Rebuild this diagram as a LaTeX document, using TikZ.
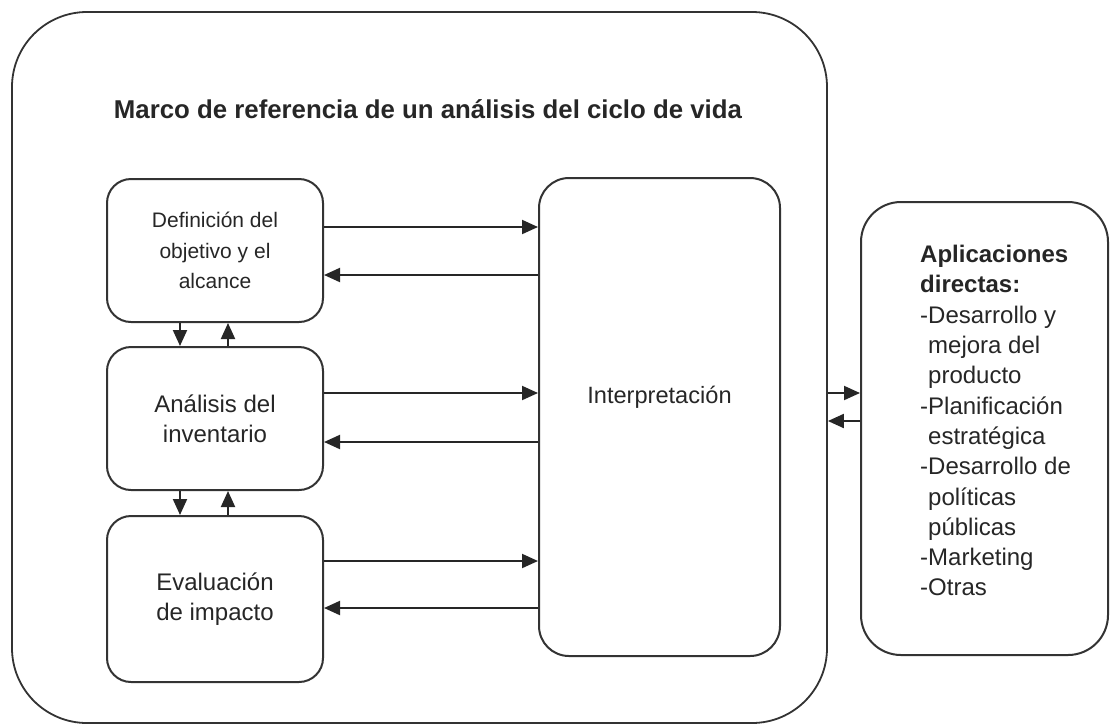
\documentclass[tikz,border=0pt]{standalone}
\usepackage{fontspec}
\setmainfont{Liberation Sans}
\usetikzlibrary{arrows.meta,positioning}
\tikzset{frame/.style={draw=black!80,line width=1.8pt,rounded corners=75pt,minimum width=815pt,minimum height=711pt}}
\tikzset{stage/.style={draw=black!80,line width=2pt,rounded corners=24pt,minimum width=216pt,align=center,text=black!85,font=\fontsize{24}{30}\selectfont}}
\tikzset{flow/.style={draw=black!85,line width=2pt,-{Triangle[length=16pt,width=14pt]}}}
\tikzset{txt/.style={inner sep=0pt,text=black!85}}

\begin{document}
\begin{tikzpicture}[x=1pt,y=-1pt]
    \useasboundingbox (0,0) rectangle (1110,724);
    \node[frame] (marco) at (419.5,367.5) {};
    \node[txt,anchor=base,font=\bfseries\fontsize{25.8}{30}\selectfont] (titulo) at (428,118) {Marco de referencia de un análisis del ciclo de vida};

    \node[stage,minimum height=143pt,font=\fontsize{21}{30.5}\selectfont] (def) at (215,250.5) {Definición del\\objetivo y el\\alcance};
    \node[stage,minimum height=143pt,below=23pt of def] (inv) {Análisis del\\inventario};
    \node[stage,minimum height=166pt,below=24pt of inv] (eva) {Evaluación\\de impacto};

    \node[stage,minimum width=241pt,minimum height=478pt,rounded corners=30pt] (interp) at (659.5,417) {};
    \node[txt,anchor=base,font=\fontsize{23.6}{28}\selectfont] (interptxt) at (659.5,403) {Interpretación};

    \node[stage,minimum width=247pt,minimum height=453pt,rounded corners=40pt] (apps) at (984.5,428.5) {};
    \node[txt,anchor=north west,align=left,font=\fontsize{24}{30.3}\selectfont] (appstxt) at (920,245)
        {\textbf{Aplicaciones}\\\textbf{directas:}\\-Desarrollo y\\\hphantom{-}mejora del\\\hphantom{-}producto\\-Planificación\\\hphantom{-}estratégica\\-Desarrollo de\\\hphantom{-}políticas\\\hphantom{-}públicas\\-Marketing\\-Otras};

        \draw[flow] (def.east |- 0,227) -- (interp.west |- 0,227);
        \draw[flow] (interp.west |- 0,275) -- (def.east |- 0,275);
        \draw[flow] (inv.east |- 0,393) -- (interp.west |- 0,393);
        \draw[flow] (interp.west |- 0,442) -- (inv.east |- 0,442);
        \draw[flow] (eva.east |- 0,561) -- (interp.west |- 0,561);
        \draw[flow] (interp.west |- 0,608) -- (eva.east |- 0,608);
        \draw[flow] (def.south -| 180,0) -- (inv.north -| 180,0);
        \draw[flow] (inv.north -| 228,0) -- (def.south -| 228,0);
        \draw[flow] (inv.south -| 180,0) -- (eva.north -| 180,0);
        \draw[flow] (eva.north -| 228,0) -- (inv.south -| 228,0);
        \draw[flow] (marco.east |- 0,393) -- (apps.west |- 0,393);
        \draw[flow] (apps.west |- 0,421) -- (marco.east |- 0,421);
\end{tikzpicture}
\end{document}
